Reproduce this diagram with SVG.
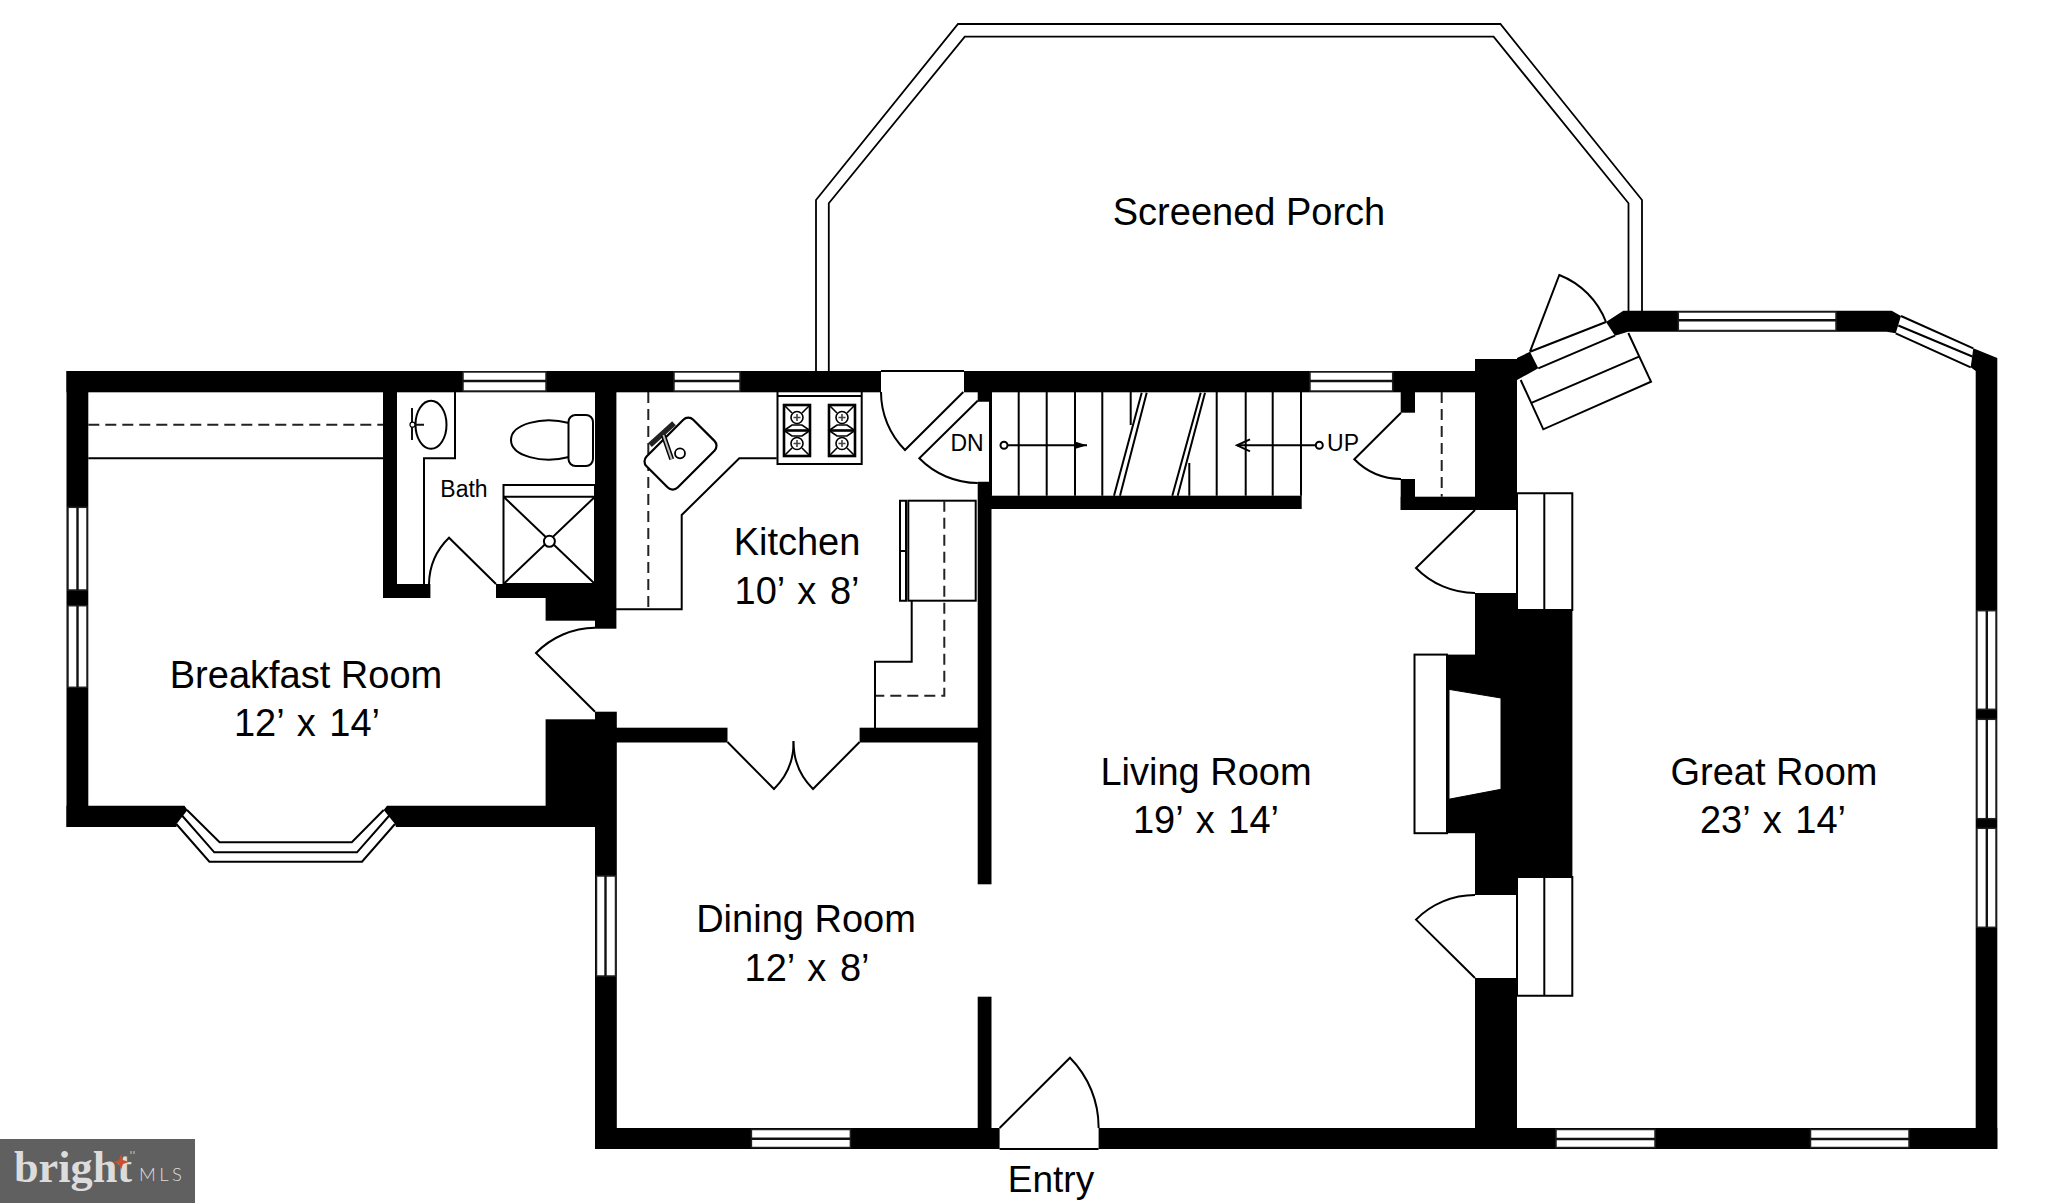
<svg xmlns="http://www.w3.org/2000/svg" width="2048" height="1203" viewBox="0 0 2048 1203">
<style>
.w{fill:#000;stroke:none}
.l{fill:none;stroke:#000;stroke-width:2}
.lt{fill:none;stroke:#000;stroke-width:1.8}
.win{fill:#fff;stroke:#222;stroke-width:1.5}
.winl{fill:none;stroke:#111;stroke-width:2.4}
.d{fill:none;stroke:#222;stroke-width:2;stroke-dasharray:11 6}
.door{fill:#fff;stroke:#000;stroke-width:2}
.t{font-family:"Liberation Sans",Arial,sans-serif;font-size:38px;fill:#000;text-anchor:middle}
.dim{word-spacing:3px}
.s{font-family:"Liberation Sans",Arial,sans-serif;font-size:23px;fill:#000;text-anchor:middle}
</style>
<defs>
<marker id="dn" markerUnits="userSpaceOnUse" markerWidth="14" markerHeight="10" refX="13" refY="5" orient="auto"><path d="M0 1L13 5L0 9L2 5Z" fill="#000"/></marker>
<marker id="up" markerUnits="userSpaceOnUse" markerWidth="18" markerHeight="14" refX="15" refY="7" orient="auto"><path d="M2 1L15 7L2 13" fill="none" stroke="#000" stroke-width="2"/></marker>
<g id="burner">
<rect x="0" y="0" width="26" height="51" fill="none" stroke="#000" stroke-width="2.6"/>
<path d="M0 0L8 8M26 0L18 8M0 51L8 43M26 51L18 43M0 25.500L8 20L18 20L26 25.500L18 31L8 31Z" fill="none" stroke="#000" stroke-width="1.6"/>
<path d="M1 25.500H25" stroke="#000" stroke-width="2.6"/>
<circle cx="13" cy="12.500" r="6" fill="#fff" stroke="#000" stroke-width="1.6"/>
<circle cx="13" cy="38.500" r="6" fill="#fff" stroke="#000" stroke-width="1.6"/>
<path d="M9.500 12.500H16.500M13 9V16M9.500 38.500H16.500M13 35V42" stroke="#444" stroke-width="1.6"/>
</g>
</defs>
<rect width="2048" height="1203" fill="#fff"/>

<g id="screened-porch">
<path class="lt" d="M816 371V200L958 24H1500.400L1642 200V311"/>
<path class="lt" d="M828.800 371V203.300L964.800 36.700H1493.600L1628.500 203.300V311"/>
<text class="t" x="1249" y="225">Screened Porch</text>
</g>

<g id="walls">
<rect class="w" x="66.500" y="371" width="814.500" height="21.300"/>
<rect class="w" x="964" y="371" width="511" height="21.300"/>
<rect class="w" x="66.500" y="371" width="21.800" height="456"/>
<path class="w" d="M66.500 805.700H184.500L187.500 810L176.500 824V827H66.500Z"/>
<path class="w" d="M595 805.700H387L383.700 810L395 824L396 827H595Z"/>
<rect class="w" x="383" y="371" width="14" height="227"/>
<rect class="w" x="383" y="584" width="47.400" height="14"/>
<rect class="w" x="496" y="584" width="99" height="14"/>
<rect class="w" x="545.600" y="584" width="50" height="36.700"/>
<rect class="w" x="595" y="371" width="21.400" height="257.700"/>
<rect class="w" x="595" y="711.700" width="21.800" height="437.300"/>
<rect class="w" x="545.600" y="719.300" width="50" height="107.700"/>
<rect class="w" x="616" y="727.700" width="111.500" height="14.800"/>
<rect class="w" x="859.600" y="727.700" width="118.400" height="14.800"/>
<rect class="w" x="977.700" y="371" width="13.800" height="29.700"/>
<rect class="w" x="977.700" y="482.700" width="13.800" height="401.600"/>
<rect class="w" x="977.700" y="996.700" width="13.800" height="132"/>
<rect class="w" x="991" y="495.700" width="310.700" height="13.300"/>
<rect class="w" x="1400.700" y="371" width="14.300" height="41.700"/>
<rect class="w" x="1400.700" y="479" width="14.300" height="31"/>
<rect class="w" x="1400.700" y="496.700" width="75" height="13.300"/>
<rect class="w" x="1475" y="359" width="42" height="151"/>
<rect class="w" x="1475" y="593" width="42" height="302"/>
<rect class="w" x="1475" y="978" width="42" height="171"/>
<rect class="w" x="1517" y="610" width="55.400" height="267"/>
<rect class="w" x="1446.700" y="654.600" width="30" height="178.600"/>
<path class="w" d="M1517 358L1530 351.700L1538.300 368.300L1517 380Z"/>
<path class="w" d="M1606 322L1623.300 310.700H1891.700L1901 316L1895.700 333.300L1886.700 331.700H1628L1615 335.700Z"/>
<path class="w" d="M1973.300 348.300L1997.300 358V1149H1975.700V371L1970.700 367.300Z"/>
<rect class="w" x="595" y="1128" width="404.600" height="21"/>
<rect class="w" x="1098.600" y="1128" width="898.700" height="21"/>
</g>

<g id="windows">
<rect class="win" x="463" y="372" width="83" height="19"/><path class="winl" d="M463 381H546"/>
<rect class="win" x="674" y="372" width="66" height="19"/><path class="winl" d="M674 381H740"/>
<rect class="win" x="1310" y="372" width="82.700" height="19"/><path class="winl" d="M1310 381H1392.700"/>
<rect class="win" x="1678.300" y="312" width="157.700" height="18.500"/><path class="winl" d="M1678.300 320.300H1836"/>
<rect class="win" x="68" y="507.300" width="19" height="82.700"/><path class="winl" d="M77.500 507.300V590"/>
<rect class="win" x="68" y="605.700" width="19" height="81.600"/><path class="winl" d="M77.500 605.700V687.300"/>
<rect class="win" x="596.500" y="876" width="19" height="100"/><path class="winl" d="M605.500 876V976"/>
<rect class="win" x="751.400" y="1129.500" width="99" height="18"/><path class="winl" d="M751.400 1138.700H850.400"/>
<rect class="win" x="1556" y="1129.500" width="99" height="18"/><path class="winl" d="M1556 1139H1655"/>
<rect class="win" x="1810.500" y="1129.500" width="98.500" height="18"/><path class="winl" d="M1810.500 1139H1909"/>
<rect class="win" x="1977" y="610.700" width="19" height="98.600"/><path class="winl" d="M1986.800 610.700V709.300"/>
<rect class="win" x="1977" y="719.300" width="19" height="99.400"/><path class="winl" d="M1986.800 719.300V818.700"/>
<rect class="win" x="1977" y="828.300" width="19" height="99"/><path class="winl" d="M1986.800 828.300V927.300"/>
<path class="l" d="M1901 316L1973.300 348.300M1898.300 325.500L1972.300 356.500M1895.700 333.300L1970.700 367.300"/>
<path class="l" d="M187 810L219.600 842.300H351.800L383.700 810M181.600 815L214.300 852.300H357L389.800 815M176.300 824L209.400 861.700H362L395 824"/>
</g>

<g id="doors">
<path class="lt" d="M881 371H964M999.600 1149H1098.600"/>
<path class="door" d="M963.300 392L905 450A82 82 0 0 1 881 392"/>
<path class="door" d="M977.700 400.700L919.300 458.300A82 82 0 0 0 977.700 483"/>
<path class="door" d="M1401 412.700L1354.300 459.300A66 66 0 0 0 1401 479"/>
<path class="door" d="M1475 510L1416 568A83 83 0 0 0 1475 593"/>
<path class="door" d="M1475 978L1416 919.600A83 83 0 0 1 1475 895"/>
<path class="door" d="M999.600 1128L1070 1057.700A99 99 0 0 1 1098.600 1128"/>
<path class="door" d="M595 711.700L536 653A84 84 0 0 1 595 627.700"/>
<path class="door" d="M496 584L449 537.700A66 66 0 0 0 429 584"/>
<path class="door" d="M727.500 742L774 789A66 66 0 0 0 793.600 741"/>
<path class="door" d="M859.600 742L813 789A66 66 0 0 1 793.600 741"/>
<path class="door" d="M1530 351.700L1559.300 275A82 82 0 0 1 1606 322"/>
<path class="l" d="M1530 351.700L1606 322M1538.300 368.300L1615 335.700M1532 402.700L1639 356.700M1520.700 380L1543.300 429.300L1651 381.700L1628.300 333"/>
<path class="l" d="M977.700 400.700H990V482.700H977.700"/>
<path class="d" d="M1441.700 392V496.700"/>
</g>

<g id="fireplace">
<rect x="1414.500" y="654.600" width="32.500" height="178.600" fill="#fff" stroke="#000" stroke-width="2"/>
<path fill="#fff" stroke="#000" stroke-width="1" d="M1448.500 689.300L1501 698V789.300L1448.500 799.300Z"/>
<path class="l" d="M1448.500 689V799"/>
<path class="door" d="M1517 493.300H1572.300V610H1517Z"/><path class="l" d="M1544.300 493.300V610"/>
<path class="door" d="M1517 877H1572.300V995.700H1517Z"/><path class="l" d="M1544.300 877V995.700"/>
<path class="l" d="M1517 510V593M1517 895V978"/>
</g>

<g id="stairs">
<path class="l" d="M991 392V495.700M1018.700 392V495.700M1046.700 392V495.700M1075 392V495.700M1102.300 392V495.700M1130.700 392V425M1189.300 463V495.700M1216.700 392V495.700M1245.700 392V495.700M1272.700 392V495.700M1301 392V495.700"/>
<path class="l" d="M1141.700 392.700L1114 495.700M1146.700 392.700L1120 495.700M1200.700 392.700L1172.300 495.700M1205 392.700L1177.700 495.700"/>
<text class="s" x="967" y="451">DN</text>
<text class="s" x="1343" y="451">UP</text>
</g>

<g id="connectors">
<circle cx="1004" cy="445.300" r="3.500" fill="#fff" stroke="#000" stroke-width="2"/>
<path class="l" d="M1008 445.300H1087" marker-end="url(#dn)"/>
<circle cx="1319.300" cy="445.300" r="3.500" fill="#fff" stroke="#000" stroke-width="2"/>
<path class="l" d="M1315.500 445.300H1237" marker-end="url(#up)"/>
</g>

<g id="kitchen">
<path class="d" d="M648.300 392V609.300"/>
<path class="l" d="M616 609.300H681.700V515L739.300 458.300H776.700"/>
<path class="l" d="M777.500 392V464H861.700V392M777.500 396H861.700"/>
<use href="#burner" x="784" y="405"/>
<use href="#burner" x="829" y="405"/>
<rect x="-33" y="-22" width="66" height="44" rx="7" fill="#fff" stroke="#000" stroke-width="2.200" transform="translate(680.500 453.600) rotate(-45)"/>
<path d="M650 445L674 423.300" stroke="#222" stroke-width="5.500" fill="none"/>
<path d="M663.300 435L671.700 459.300" stroke="#000" stroke-width="5" fill="none"/>
<path d="M663.300 435L671.700 459.300" stroke="#bbb" stroke-width="2" fill="none"/>
<circle cx="680" cy="453.300" r="5" fill="#fff" stroke="#000" stroke-width="1.800"/>
<path class="l" d="M900 500.700H906V600.700H900ZM900 551H906"/>
<rect x="908.300" y="500.700" width="67.400" height="100" fill="#fff" stroke="#000" stroke-width="2"/>
<path class="d" d="M944.300 500.700V695.700H875"/>
<path class="l" d="M911.700 600.700V661.700H875V728"/>
<text class="t" x="797" y="555">Kitchen</text>
<text class="t dim" x="797" y="604">10’ x 8’</text>
</g>

<g id="bath">
<path class="l" d="M455 392V458.300H424V584"/>
<ellipse cx="431" cy="424.700" rx="15.500" ry="24" fill="#fff" stroke="#000" stroke-width="2"/>
<path d="M412 408V440M412 424.700H424" stroke="#111" stroke-width="2" fill="none"/>
<circle cx="412.500" cy="424.700" r="2.500" fill="#fff" stroke="#000" stroke-width="1.200"/>
<path class="door" d="M569 423C542 416 511 424 511 440C511 456 542 464 569 457Z"/>
<rect x="568.500" y="415" width="24.500" height="51" rx="7" fill="#fff" stroke="#000" stroke-width="2"/>
<rect x="503.500" y="485" width="91.500" height="99" fill="#fff" stroke="#000" stroke-width="2"/>
<path class="l" d="M503.500 496.700H595M503.500 496.700L595 584M595 496.700L503.500 584"/>
<circle cx="549.400" cy="541.300" r="5.500" fill="#fff" stroke="#000" stroke-width="2"/>
<text class="s" x="464" y="496.700">Bath</text>
</g>

<g id="breakfast-room">
<path class="d" d="M88.300 424.700H383"/>
<path class="l" d="M88.300 458.300H383"/>
<text class="t" x="306" y="688">Breakfast Room</text>
<text class="t dim" x="307" y="736">12’ x 14’</text>
</g>

<g id="dining-room">
<text class="t" x="806" y="932">Dining Room</text>
<text class="t dim" x="807" y="980.500">12’ x 8’</text>
</g>

<g id="living-room">
<text class="t" x="1206" y="785">Living Room</text>
<text class="t dim" x="1206" y="833">19’ x 14’</text>
</g>

<g id="great-room">
<text class="t" x="1774" y="785">Great Room</text>
<text class="t dim" x="1773" y="833">23’ x 14’</text>
</g>

<g id="entry">
<text class="t" style="font-size:37px" x="1051" y="1191.700">Entry</text>
</g>

<g id="logo">
<rect x="0" y="1139" width="195" height="64" fill="#606060"/>
<text x="14" y="1181.700" font-family="'Liberation Serif',serif" font-weight="bold" font-size="44" fill="#dcdcdc" textLength="118" lengthAdjust="spacingAndGlyphs">bright</text>
<text x="139" y="1181" font-family="Lato,'Liberation Sans',sans-serif" font-weight="300" font-size="18.500" fill="#dcdcdc" textLength="43">MLS</text>
<path d="M121 1154L123 1160L129 1162L123 1164L121 1170L119 1164L113 1162L119 1160Z" fill="#c9502f"/>
<path d="M131 1151V1154M134 1151V1154" stroke="#ccc" stroke-width="1"/>
</g>
</svg>
